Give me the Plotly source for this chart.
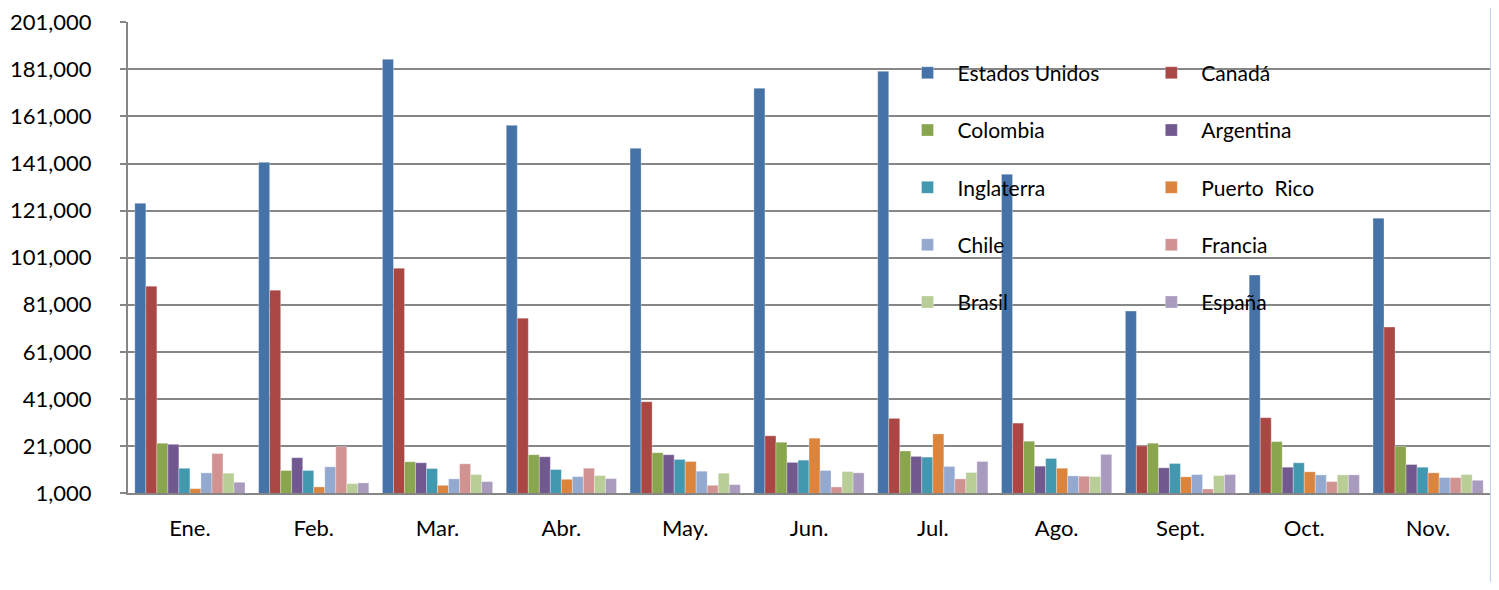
import plotly.graph_objects as go

months = ["Ene.", "Feb.", "Mar.", "Abr.", "May.", "Jun.", "Jul.", "Ago.", "Sept.", "Oct.", "Nov."]

estados_unidos = [124100, 141500, 185300, 157250, 147500, 173000, 180200, 136450, 78300, 93600, 117800]
canada         = [88900, 87200, 96500, 75300, 39800, 25300, 32700, 30700, 21000, 33000, 71500]
colombia       = [22150, 10550, 14270, 17260, 18120, 22580, 18840, 23000, 22150, 22830, 20800]
argentina      = [21700, 16000, 13840, 16400, 17260, 14000, 16540, 12400, 11700, 11960, 13100]
inglaterra     = [11500, 10550, 11400, 10970, 15250, 14950, 16240, 15680, 13540, 13840, 11960]
puerto_rico    = [2850, 3570, 4250, 6820, 14400, 24300, 26100, 11530, 7850, 10000, 9560]
chile          = [9560, 12130, 7000, 7970, 10250, 10550, 12260, 8280, 8830, 8700, 7540]
francia        = [17800, 20700, 13400, 11530, 4250, 3570, 7000, 8100, 2710, 5840, 7540]
brasil         = [9400, 5000, 8830, 8400, 9400, 10100, 9690, 7970, 8400, 8700, 8830]
espana         = [5540, 5280, 5840, 7100, 4550, 9560, 14400, 17400, 8830, 8700, 6400]

series_names = ["Estados Unidos", "Canadá", "Colombia", "Argentina", "Inglaterra",
                "Puerto  Rico", "Chile", "Francia", "Brasil", "España"]
series_values = [estados_unidos, canada, colombia, argentina, inglaterra,
                 puerto_rico, chile, francia, brasil, espana]
colors = ["#4572A7", "#AA4643", "#89A54E", "#71588F", "#4198AF",
          "#DB843D", "#93A9CF", "#D19392", "#B9CD96", "#A99BBD"]

y_ticks = list(range(1000, 201001, 20000))
y_labels = [f"{v:,}" for v in y_ticks]

fig = go.Figure()
for i, (name, vals, col) in enumerate(zip(series_names, series_values, colors)):
    fig.add_trace(go.Bar(
        x=months, y=vals, name=name,
        marker=dict(color=col, line=dict(color="rgba(255,255,255,0.5)", width=0.6)),
        legend="legend" if i % 2 == 0 else "legend2",
        legendgroup=name,
    ))

font = "Lato, 'Open Sans', sans-serif"
legend_common = dict(
    bgcolor="rgba(0,0,0,0)", borderwidth=0,
    font=dict(family=font, size=21, color="#000000"),
    itemwidth=50, tracegroupgap=27,
    xanchor="left", yanchor="top", traceorder="grouped",
)

fig.update_layout(
    width=1483, height=574,
    margin=dict(l=120, r=1, t=14, b=89),
    paper_bgcolor="white", plot_bgcolor="white",
    barmode="group", bargap=0.11, bargroupgap=0,
    font=dict(family=font, size=22, color="#000000"),
    showlegend=True,
    legend=dict(x=0.565, y=0.935, **legend_common),
    legend2=dict(x=0.744, y=0.935, **legend_common),
    xaxis=dict(
        showgrid=False, showline=True, linecolor="#868686", linewidth=2,
        ticks="", tickfont=dict(family=font, size=22, color="#000000"),
        ticklabelstandoff=15,
    ),
    yaxis=dict(
        range=[1000, 201150], tickvals=y_ticks, ticktext=y_labels,
        showgrid=True, gridcolor="#868686", gridwidth=2,
        showline=True, linecolor="#868686", linewidth=2,
        ticks="outside", ticklen=6, tickcolor="#868686", tickwidth=2,
        tickfont=dict(family=font, size=22, color="#000000"),
        ticklabelstandoff=24, ticklabeloverflow="allow",
        zeroline=False, automargin=False,
    ),
)

fig.add_shape(type="line", xref="paper", yref="paper", x0=1.001, x1=1.001, y0=-0.2, y1=1.05,
              line=dict(color="#9DB9E0", width=2))

fig.write_html("out.html")
